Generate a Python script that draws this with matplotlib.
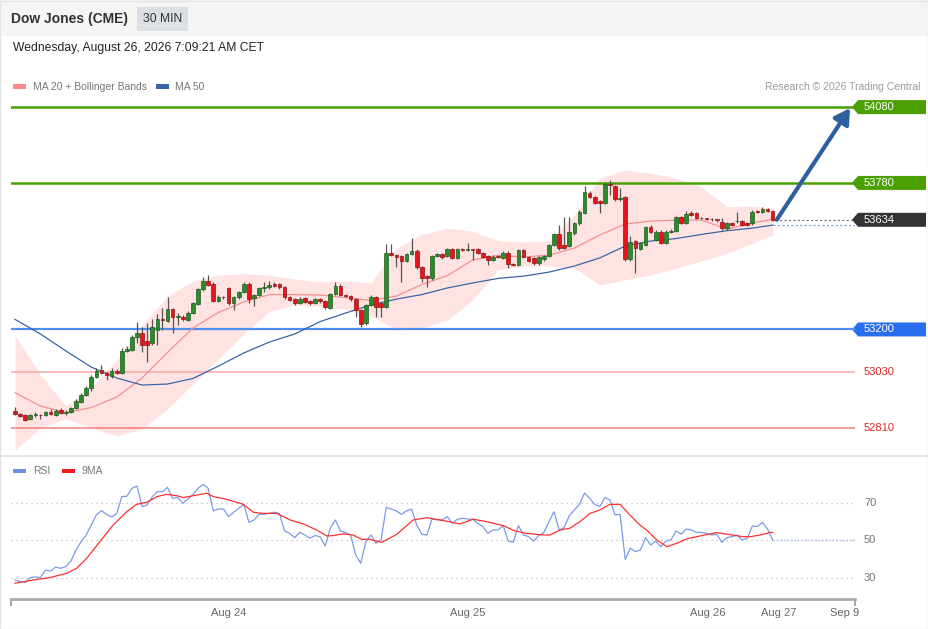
import matplotlib
matplotlib.use('Agg')
import matplotlib.pyplot as plt
from matplotlib.patches import Polygon, Rectangle, FancyArrowPatch
import numpy as np

plt.rcParams['font.family'] = ['Liberation Sans', 'DejaVu Sans']

# ---- data (30 min candles, index 0 = first candle) ----
opens = [52879, 52866, 52862, 52845, 52862, 52861, 52860, 52875, 52862, 52882,
         52868, 52872, 52888, 52914, 52941, 52967, 53011, 53040, 53029, 53016,
         53037, 53029, 53116, 53119, 53169, 53187, 53154, 53148, 53198, 53240,
         53234, 53280, 53248, 53251, 53237, 53264, 53301, 53359, 53393, 53380,
         53314, 53330, 53363, 53306, 53327, 53349, 53380, 53323, 53336, 53363,
         53367, 53380, 53380, 53367, 53327, 53319, 53306, 53323, 53314, 53306,
         53319, 53314, 53284, 53340, 53372, 53336, 53334, 53319, 53277, 53224,
         53297, 53330, 53306, 53290, 53504, 53495, 53491, 53472, 53499, 53512,
         53446, 53411, 53402, 53491, 53499, 53491, 53517, 53483, 53517, 53515,
         53517, 53517, 53501, 53491, 53475, 53488, 53482, 53504, 53459, 53455,
         53514, 53486, 53482, 53462, 53477, 53491, 53534, 53578, 53534, 53530,
         53580, 53620, 53662, 53741, 53725, 53709, 53701, 53775, 53768, 53715,
         53725, 53478, 53551, 53518, 53534, 53604, 53554, 53587, 53543, 53587,
         53590, 53644, 53622, 53660, 53660, 53640, 53640, 53637, 53636, 53626,
         53600, 53622, 53628, 53630, 53622, 53620, 53666, 53666, 53675, 53669]
highs = [52894, 52871, 52866, 52864, 52872, 52866, 52878, 52884, 52884, 52890,
         52882, 52894, 52923, 52947, 52976, 53020, 53046, 53059, 53033, 53046,
         53044, 53126, 53135, 53178, 53231, 53211, 53224, 53240, 53261, 53285,
         53327, 53286, 53264, 53257, 53272, 53310, 53366, 53409, 53416, 53386,
         53336, 53334, 53368, 53332, 53354, 53386, 53388, 53341, 53368, 53389,
         53393, 53386, 53385, 53372, 53332, 53324, 53327, 53328, 53318, 53324,
         53324, 53318, 53345, 53388, 53378, 53340, 53338, 53323, 53281, 53302,
         53335, 53334, 53310, 53538, 53538, 53498, 53495, 53504, 53561, 53517,
         53450, 53415, 53496, 53504, 53504, 53522, 53522, 53522, 53521, 53543,
         53520, 53521, 53505, 53495, 53493, 53492, 53509, 53509, 53463, 53519,
         53519, 53490, 53486, 53490, 53495, 53539, 53583, 53613, 53646, 53646,
         53627, 53671, 53767, 53746, 53730, 53713, 53785, 53791, 53773, 53760,
         53730, 53570, 53556, 53547, 53609, 53613, 53592, 53592, 53592, 53596,
         53649, 53649, 53669, 53669, 53665, 53646, 53643, 53641, 53639, 53641,
         53625, 53627, 53666, 53635, 53627, 53671, 53673, 53686, 53680, 53672]
lows = [52862, 52855, 52837, 52840, 52852, 52847, 52856, 52862, 52858, 52866,
        52862, 52868, 52884, 52910, 52936, 52956, 53006, 53022, 53000, 53007,
        53022, 53024, 53112, 53114, 53145, 53112, 53072, 53140, 53138, 53198,
        53228, 53185, 53218, 53232, 53232, 53260, 53296, 53354, 53372, 53308,
        53308, 53322, 53298, 53277, 53322, 53344, 53303, 53293, 53331, 53349,
        53362, 53367, 53362, 53322, 53312, 53298, 53300, 53305, 53298, 53300,
        53306, 53282, 53279, 53336, 53331, 53330, 53314, 53250, 53209, 53219,
        53292, 53250, 53250, 53286, 53490, 53447, 53389, 53466, 53494, 53441,
        53388, 53369, 53396, 53486, 53480, 53486, 53478, 53478, 53511, 53511,
        53475, 53497, 53481, 53455, 53470, 53482, 53477, 53443, 53450, 53450,
        53481, 53467, 53457, 53457, 53472, 53486, 53529, 53516, 53517, 53525,
        53575, 53615, 53657, 53720, 53696, 53662, 53696, 53732, 53710, 53710,
        53472, 53472, 53425, 53513, 53529, 53582, 53549, 53538, 53538, 53582,
        53585, 53617, 53617, 53649, 53636, 53636, 53632, 53630, 53627, 53593,
        53595, 53608, 53622, 53608, 53608, 53615, 53659, 53661, 53664, 53630]
closes = [52866, 52858, 52842, 52860, 52863, 52860, 52873, 52866, 52878, 52871,
          52875, 52888, 52917, 52941, 52970, 53011, 53036, 53027, 53020, 53037,
          53027, 53116, 53121, 53171, 53187, 53138, 53138, 53211, 53240, 53237,
          53280, 53248, 53253, 53240, 53266, 53303, 53360, 53393, 53376, 53314,
          53330, 53327, 53303, 53327, 53349, 53380, 53319, 53336, 53363, 53367,
          53376, 53372, 53367, 53327, 53317, 53303, 53322, 53310, 53303, 53319,
          53312, 53288, 53340, 53372, 53336, 53334, 53319, 53277, 53222, 53297,
          53330, 53290, 53290, 53504, 53495, 53486, 53472, 53499, 53512, 53446,
          53402, 53402, 53491, 53499, 53485, 53517, 53483, 53517, 53515, 53517,
          53514, 53501, 53486, 53475, 53488, 53486, 53504, 53459, 53455, 53514,
          53486, 53472, 53462, 53486, 53491, 53534, 53578, 53521, 53522, 53587,
          53622, 53666, 53745, 53725, 53701, 53699, 53775, 53772, 53715, 53722,
          53478, 53547, 53521, 53542, 53604, 53587, 53587, 53543, 53587, 53590,
          53644, 53622, 53657, 53653, 53640, 53642, 53637, 53636, 53633, 53600,
          53620, 53613, 53630, 53613, 53613, 53666, 53664, 53675, 53669, 53634]

# moving averages and bollinger bands, sampled every 5 candles
band_idx = [0, 5, 10, 15, 20, 25, 30, 35, 40, 45, 50, 55, 60, 65, 70, 75,
            80, 85, 90, 95, 100, 105, 110, 115, 120, 125, 130, 135, 140, 145, 149]
ma20 = [52950, 52897, 52871, 52891, 52932, 53008, 53109, 53206, 53267, 53309,
        53338, 53338, 53336, 53326, 53315, 53332, 53378, 53413, 53475, 53493,
        53487, 53494, 53522, 53574, 53617, 53629, 53633, 53633, 53597, 53621, 53636]
bb_upper = [53178, 53020, 52897, 52970, 53079, 53218, 53332, 53392, 53415, 53421,
            53415, 53400, 53388, 53392, 53384, 53522, 53576, 53601, 53589, 53552,
            53546, 53550, 53653, 53799, 53831, 53819, 53799, 53764, 53686, 53688, 53679]
bb_lower = [52723, 52810, 52848, 52810, 52779, 52806, 52885, 52984, 53083, 53182,
            53271, 53297, 53290, 53281, 53253, 53198, 53206, 53237, 53317, 53435,
            53451, 53451, 53443, 53376, 53396, 53416, 53443, 53471, 53501, 53540, 53574]
ma50 = [53240, 53182, 53115, 53051, 53008, 52980, 52984, 53006, 53055, 53107,
        53150, 53182, 53231, 53265, 53297, 53320, 53338, 53364, 53384, 53402,
        53411, 53427, 53451, 53483, 53530, 53550, 53560, 53576, 53591, 53601, 53613]

rsi = [28.8, 28.1, 27.5, 30.2, 30.5, 30.2, 34.1, 33.7, 35.7, 35.1,
       36.0, 39.0, 44.9, 49.3, 52.8, 58.1, 63.5, 65.8, 63.8, 62.4,
       64.2, 73.2, 73.4, 77.6, 78.8, 67.9, 68.8, 73.2, 75.8, 75.8,
       78.1, 72.3, 72.7, 69.6, 71.9, 74.4, 77.6, 79.7, 77.6, 65.6,
       66.6, 66.6, 62.6, 64.9, 67.0, 69.1, 59.6, 60.8, 63.8, 63.8,
       64.3, 64.9, 64.3, 55.0, 53.7, 51.4, 54.2, 52.8, 51.1, 52.5,
       51.9, 47.0, 56.4, 60.8, 55.0, 54.1, 52.8, 42.2, 37.8, 49.3,
       52.8, 48.4, 50.2, 67.5, 66.6, 65.6, 63.8, 65.6, 66.6, 58.1,
       53.2, 52.8, 61.3, 60.8, 60.8, 62.6, 59.0, 61.2,
       61.7, 61.3, 61.2, 59.0, 57.3, 53.7, 55.5, 55.5, 57.8, 49.6,
       48.9, 57.8, 52.8, 51.9, 49.6, 52.5, 54.2, 59.9, 65.2, 55.5,
       56.7, 63.1, 66.1, 69.1, 75.0, 72.3, 69.1, 67.9, 72.7, 71.4,
       63.5, 63.8, 39.9, 45.8, 44.0, 44.9, 51.4, 47.5, 49.6, 46.6,
       49.6, 50.2, 55.0, 53.2, 56.0, 55.5, 54.2, 54.2, 53.7, 52.8,
       53.2, 48.9, 51.4, 51.9, 52.8, 50.2, 51.1, 57.6, 57.3, 59.5,
       56.0, 50.2]
ma9_idx = [0, 3.6, 6.9, 10.2, 12.1, 14.1, 16.7, 19.3, 22.0, 23.9,
           25.9, 27.9, 29.8, 31.8, 33.1, 35.1, 37.7, 39.0, 41.6, 44.9,
           46.9, 48.8, 51.5, 54.1, 56.7, 59.3, 61.3, 62.6, 64.6, 66.5,
           68.2, 69.8, 72.1, 75.1, 78.3, 81.0, 83.6, 87.5, 90.1, 92.8,
           96.0, 98.3, 100.6, 103.9, 105.2, 107.2, 109.1, 111.1, 113.1, 115.0,
           117.0, 119.0, 120.9, 122.9, 124.2, 126.2, 128.2, 130.1, 132.1, 134.7,
           138.0, 140.0, 143.2, 144.6, 146.5, 148.5, 149.0]
ma9 = [27.2, 28.9, 30.2, 32.5, 35.1, 40.4, 49.3, 58.1, 65.2, 69.1,
       70.2, 73.2, 74.4, 73.7, 72.7, 73.7, 75.0, 73.2, 71.8, 69.1,
       64.9, 64.3, 64.3, 60.8, 58.7, 55.5, 52.3, 52.5, 53.4, 52.8,
       50.5, 50.5, 48.9, 53.2, 60.8, 62.0, 60.8, 58.7, 61.2, 59.9,
       57.8, 55.0, 53.7, 52.8, 52.8, 55.5, 56.4, 59.9, 64.3, 66.1,
       69.1, 69.1, 63.5, 58.1, 55.5, 50.2, 46.6, 48.4, 50.7, 52.3,
       54.1, 53.2, 51.9, 51.9, 52.8, 54.2, 54.2]

resistances = [54080, 53780]
support = 53200
weak_levels = [53030, 52810]
last_price = 53634
target = 54080

date_pos = [42.1, 89.1, 136.3, 150.2, 163.2]
date_labels = ['Aug 24', 'Aug 25', 'Aug 26', 'Aug 27', 'Sep 9']

# ---- layout helpers (pixel coordinates of the 929x629 picture) ----
W, H = 929, 629
fig = plt.figure(figsize=(W / 100, H / 100), dpi=100)
fig.patch.set_facecolor('white')


def box(x0, y0, x1, y1):
    return [x0 / W, 1 - y1 / H, (x1 - x0) / W, (y1 - y0) / H]


def frect(x, y, w, h, **kw):
    fig.add_artist(Rectangle((x / W, 1 - (y + h) / H), w / W, h / H,
                             transform=fig.transFigure, **kw))


def ftext(x, y, s, **kw):
    fig.text(x / W, 1 - y / H, s, va='center', **kw)


def kpos(px):
    # pixel x -> candle index
    return (px - 15) / 5.085


XL, XR = kpos(11), kpos(855)

# header
frect(0, 0, W, 36, facecolor='#f5f5f5', edgecolor='none')
frect(137, 7, 51, 24, facecolor='#dcdfe4', edgecolor='none')
ftext(11, 19, 'Dow Jones (CME)', fontsize=10, fontweight='bold', color='#333333')
ftext(162.5, 19, '30 MIN', fontsize=8.7, color='#333333', ha='center')
ftext(13, 48, 'Wednesday, August 26, 2026 7:09:21 AM CET', fontsize=8.7, color='#222222')

# legends
frect(13, 84.5, 13, 4, facecolor='#ff8a8a', edgecolor='none')
ftext(33, 86.5, 'MA 20 + Bollinger Bands', fontsize=7.5, color='#777777')
frect(156, 84.5, 13, 4, facecolor='#3a64a8', edgecolor='none')
ftext(175, 86.5, 'MA 50', fontsize=7.5, color='#777777')
ftext(920, 86.5, 'Research \u00a9 2026 Trading Central', fontsize=7.5,
      color='#9a9a9a', ha='right')
frect(13, 469, 13, 4, facecolor='#6b8de3', edgecolor='none')
ftext(33, 471, 'RSI', fontsize=7.5, color='#777777')
frect(62, 469, 13, 4, facecolor='#ee1c1c', edgecolor='none')
ftext(82, 471, '9MA', fontsize=7.5, color='#777777')

frect(0, 455.5, W, 1.2, facecolor='#e6e6e6', edgecolor='none')
frect(0.5, 0.5, W - 1, H - 1, facecolor='none', edgecolor='#e3e3e3', lw=1)

# ---- price panel ----
ax = fig.add_axes(box(11, 97, 855, 452))
ax.set_xlim(XL, XR)
ax.set_ylim(52715, 54120)
ax.axis('off')

ax.fill_between(band_idx, bb_lower, bb_upper, color='#ffe3e3', lw=0, zorder=1)
ax.plot(band_idx, ma20, color='#f58f8f', lw=0.9, zorder=2)
ax.plot(band_idx, ma50, color='#3a64a8', lw=0.9, zorder=2)

for lvl in resistances:
    ax.axhline(lvl, color='#4aa000', lw=1.8, zorder=1.5)
ax.axhline(support, color='#4d8ef0', lw=1.6, zorder=1.5)
ax.axhline(weak_levels[0], color='#f7a8a8', lw=1.1, zorder=1.5)
ax.axhline(weak_levels[1], color='#f07f7f', lw=1.1, zorder=1.5)

idx = np.arange(len(closes))
o = np.array(opens)
c = np.array(closes)
up = c >= o
ax.vlines(idx, lows, highs, color='#555555', lw=0.9, zorder=3)
body_lo = np.minimum(o, c)
body_h = np.maximum(np.abs(c - o), 3)
ax.bar(idx[up], body_h[up], bottom=body_lo[up], width=0.72,
       color='#2a8c2a', edgecolor='#1c5c1c', lw=0.5, zorder=4)
ax.bar(idx[~up], body_h[~up], bottom=body_lo[~up], width=0.72,
       color='#e8141b', edgecolor='#8c1414', lw=0.5, zorder=4)

ax.hlines(last_price, idx[-1] + 0.5, XR, colors='#777777', lw=0.8,
          linestyles=(0, (2, 2)), zorder=2)
ax.hlines(ma50[-1], idx[-1], XR, colors='#7f9bd0', lw=0.8,
          linestyles=(0, (2, 2)), zorder=2)

ax.add_patch(FancyArrowPatch((idx[-1] + 0.8, last_price), (kpos(850), target - 4),
                             arrowstyle='-|>,head_length=0.6,head_width=0.35',
                             mutation_scale=15, color='#2e5f9e', lw=3,
                             shrinkA=0, shrinkB=0, zorder=5))

# price tags on the right
half = 7 * 3.956
k_tip, k_body, k_end, k_txt = kpos(852), kpos(858), kpos(926), kpos(864)


def tag(price, text, face):
    ax.add_patch(Polygon([(k_tip, price), (k_body, price + half), (k_end, price + half),
                          (k_end, price - half), (k_body, price - half)],
                         closed=True, facecolor=face, edgecolor='none', clip_on=False))
    ax.text(k_txt, price, text, color='white', fontsize=8, va='center', clip_on=False)


for lvl in resistances:
    tag(lvl, str(lvl), '#4aa000')
tag(last_price, str(last_price), '#333333')
tag(support, str(support), '#2a6ef0')
for lvl in weak_levels:
    ax.text(k_txt, lvl, str(lvl), color='#e02828', fontsize=8, va='center', clip_on=False)

# ---- RSI panel ----
ax2 = fig.add_axes(box(11, 462, 855, 599))
ax2.set_xlim(XL, XR)
ax2.set_ylim(18.8, 91.6)
for lvl in (30, 50, 70):
    ax2.axhline(lvl, color='#bdbdbd', lw=0.9, ls=(0, (1, 3)))
    ax2.text(k_txt, lvl, str(lvl), color='#777777', fontsize=8, va='center', clip_on=False)
ax2.plot(idx, rsi, color='#7b9be6', lw=0.9)
ax2.plot(ma9_idx, ma9, color='#ff3030', lw=0.9)
ax2.hlines(rsi[-1], idx[-1], XR, colors='#a3b8ef', lw=1.0, linestyles=(0, (1, 1.5)))

for s in ('top', 'left', 'right'):
    ax2.spines[s].set_visible(False)
ax2.spines['bottom'].set_color('#aaaaaa')
ax2.spines['bottom'].set_linewidth(2)
ax2.set_yticks([])
ax2.set_xticks(date_pos, date_labels)
ax2.tick_params(axis='x', length=0, pad=6.5, labelsize=8, labelcolor='#666666')
ax2.set_xticks([XL, XR], minor=True)
ax2.tick_params(axis='x', which='minor', length=5, width=1.5, color='#aaaaaa')

fig.savefig('out.png', dpi=100)
